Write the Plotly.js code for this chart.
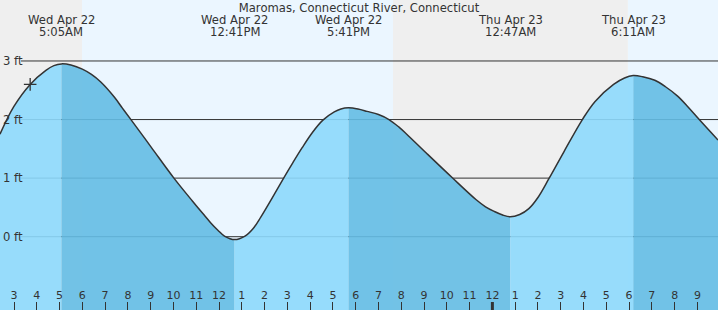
<!DOCTYPE html>
<html><head><meta charset="utf-8">
<script src="https://cdn.plot.ly/plotly-3.0.1.min.js"></script>
<style>html,body{margin:0;padding:0;background:#fff;overflow:hidden}#chart{width:718px;height:310px}</style>
</head><body><div id="chart"></div>
<script>
const chartTitle = 'Maromas, Connecticut River, Connecticut';
// hours since Wed Apr 22 00:00, tide height in ft
const hours = [2.385, 2.99, 3.71, 4.40, 4.75, 5.083,
  5.50, 6.00, 6.40, 6.81, 7.41, 7.75, 8.15, 9.02, 10.02, 10.83, 11.30, 11.63, 11.95, 12.24, 12.683,
  13.14, 13.50, 13.84, 14.45, 14.85, 15.25, 15.65, 16.10, 16.56, 17.06, 17.35, 17.683,
  18.10, 18.50, 19.00, 19.46, 19.90, 20.24, 21.12, 22.23, 23.29, 23.70, 24.09, 24.45, 24.783,
  25.20, 25.60, 26.00, 26.48, 27.14, 27.95, 28.51, 29.32, 29.80, 30.183,
  30.60, 31.13, 31.60, 32.13, 32.60, 33.08, 33.905];
const heights = [1.75, 2.22, 2.60, 2.84, 2.92, 2.95,
  2.93, 2.86, 2.77, 2.64, 2.38, 2.20, 1.99, 1.53, 1.00, 0.61, 0.39, 0.24, 0.11, 0.01, -0.05,
  0.01, 0.14, 0.34, 0.74, 1.01, 1.27, 1.52, 1.78, 1.99, 2.13, 2.18, 2.20,
  2.18, 2.14, 2.085, 2.00, 1.87, 1.75, 1.42, 1.01, 0.63, 0.51, 0.43, 0.37, 0.34,
  0.38, 0.48, 0.67, 0.99, 1.45, 2.00, 2.31, 2.60, 2.71, 2.75,
  2.73, 2.67, 2.56, 2.40, 2.21, 2.00, 1.65];
const eventHours = [5.083, 12.683, 17.683, 24.783, 30.183];
const eventDates = ['Wed Apr 22', 'Wed Apr 22', 'Wed Apr 22', 'Thu Apr 23', 'Thu Apr 23'];
const eventTimes = ['5:05AM', '12:41PM', '5:41PM', '12:47AM', '6:11AM'];
const sunEvents = [5.985, 19.64, 29.95]; // sunrise, sunset, sunrise
const nowHour = [3.71];
const nowHeight = [2.60];
const hourTicks = [3,4,5,6,7,8,9,10,11,12,13,14,15,16,17,18,19,20,21,22,23,24,25,26,27,28,29,30,31,32,33];
const hourLabels = ['3','4','5','6','7','8','9','10','11','12','1','2','3','4','5','6','7','8','9','10','11','12','1','2','3','4','5','6','7','8','9'];
const midnightHour = 24;
const yTicks = [0, 1, 2, 3];
const yLabels = ['0 ft', '1 ft', '2 ft', '3 ft'];

const W = 718, H = 310;
const xRange = [2.3854, 33.904];
const yRange = [-1.2515, 4.041];
const FONT = 'DejaVu Sans, sans-serif';
const TXT = '#333';
const LIGHT = 'rgba(141,217,252,0.9)';
const DARK = 'rgba(100,189,228,0.9)';
const NIGHT = '#efefef';
const DAY = '#ebf6ff';

const traces = [];
const base = yRange[0] - 1;
const cut = eventHours.map(h => hours.indexOf(h));
const bounds = [0].concat(cut).concat([hours.length - 1]);
for (let s = 0; s < bounds.length - 1; s++) {
  const xs = hours.slice(bounds[s], bounds[s+1] + 1);
  const ys = heights.slice(bounds[s], bounds[s+1] + 1);
  const rising = ys[ys.length-1] > ys[0];
  traces.push({x: xs, y: xs.map(() => base), mode: 'lines', line: {width: 0}, hoverinfo: 'skip', showlegend: false});
  traces.push({x: xs, y: ys, mode: 'lines', fill: 'tonexty', fillcolor: rising ? LIGHT : DARK,
    line: {width: 0, shape: 'spline', smoothing: 1}, hoverinfo: 'skip', showlegend: false});
}
traces.push({x: hours, y: heights, mode: 'lines', line: {color: '#333', width: 1.5, shape: 'spline', smoothing: 1}, showlegend: false});
traces.push({x: nowHour, y: nowHeight, mode: 'markers', marker: {symbol: 'cross-thin', size: 9, line: {color: '#333', width: 1.3}}, showlegend: false});

const shapes = [];
const bandEdges = [xRange[0] - 1].concat(sunEvents).concat([xRange[1] + 1]);
for (let i = 0; i < bandEdges.length - 1; i++) {
  shapes.push({type: 'rect', xref: 'x', yref: 'paper', x0: bandEdges[i], x1: bandEdges[i+1], y0: 0, y1: 1,
    fillcolor: i % 2 === 0 ? NIGHT : DAY, line: {width: 0}, layer: 'below'});
}
yTicks.forEach(v => shapes.push({type: 'line', xref: 'paper', yref: 'y', x0: 21 / W, x1: 1, y0: v, y1: v,
  line: {color: '#333', width: 1}, layer: 'below'}));
shapes.push({type: 'line', xref: 'x', yref: 'paper', x0: midnightHour, x1: midnightHour, y0: 0, y1: 8 / H,
  line: {color: '#333', width: 3}, layer: 'above'});

const annotations = [];
eventHours.forEach((h, i) => {
  annotations.push({x: h, xref: 'x', y: 1 - 20 / H, yref: 'paper', text: eventDates[i], showarrow: false,
    xanchor: 'center', yanchor: 'middle', font: {family: FONT, size: 11.6, color: TXT}});
  annotations.push({x: h, xref: 'x', y: 1 - 32 / H, yref: 'paper', text: eventTimes[i], showarrow: false,
    xanchor: 'center', yanchor: 'middle', font: {family: FONT, size: 11.6, color: TXT}});
});

const layout = {
  width: W, height: H,
  margin: {l: 0, r: 0, t: 0, b: 0, pad: 0},
  paper_bgcolor: '#fff', plot_bgcolor: 'rgba(0,0,0,0)',
  font: {family: FONT, color: TXT},
  title: {text: chartTitle, x: 0.5, xanchor: 'center', xref: 'paper', y: 1 - 8 / H, yref: 'container', yanchor: 'middle',
    font: {family: FONT, size: 11.6, color: TXT}, pad: {t: 0, b: 0}},
  xaxis: {range: xRange, showgrid: false, zeroline: false, showline: false, tickmode: 'array', tickvals: hourTicks, ticktext: hourLabels,
    ticks: 'inside', ticklen: 8, tickwidth: 1, tickcolor: '#333', ticklabelposition: 'inside', ticklabeloverflow: 'allow',
    tickfont: {family: FONT, size: 11, color: TXT}, fixedrange: true},
  yaxis: {range: yRange, showgrid: false, zeroline: false, showline: false, tickmode: 'array', tickvals: yTicks, ticktext: yLabels,
    ticks: '', ticklabelposition: 'inside', ticklabeloverflow: 'allow', tickfont: {family: FONT, size: 11.6, color: TXT}, fixedrange: true},
  shapes: shapes,
  annotations: annotations,
  showlegend: false
};
Plotly.newPlot('chart', traces, layout, {staticPlot: true, displayModeBar: false});
</script></body></html>
